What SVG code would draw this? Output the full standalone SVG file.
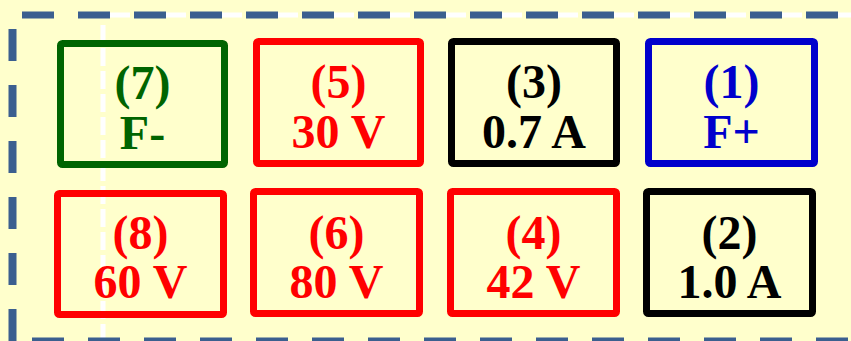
<svg xmlns="http://www.w3.org/2000/svg" width="851" height="341" viewBox="0 0 851 341">
<style>
.box{fill:none;stroke-width:7;}
.t{font-family:"Liberation Serif","Times New Roman",serif;font-weight:bold;font-size:48px;text-anchor:middle;}
.g{stroke:#006400}.gt{fill:#006400}
.r{stroke:#ff0000}.rt{fill:#ff0000}
.k{stroke:#000000}.kt{fill:#000000}
.b{stroke:#0000cc}.bt{fill:#0000cc}
.border{stroke:#3b5f8f;stroke-width:7;stroke-dasharray:32 24;fill:none}
.wline{stroke:#ffffff;stroke-width:5;fill:none}
</style>
<rect x="0" y="0" width="851" height="341" fill="#ffffcc"/>
<g id="frame">
<line class="wline" x1="110" y1="15" x2="851" y2="15" stroke-dasharray="20 36"/>
<line class="wline" x1="103" y1="25" x2="103" y2="341" stroke-dasharray="18 5"/>
<line class="border" x1="22" y1="15" x2="851" y2="15"/>
<line class="border" x1="12.5" y1="29" x2="12.5" y2="341" style="stroke-width:8"/>
<line class="border" x1="32" y1="341" x2="851" y2="341"/>
</g>
<g id="n7"><rect class="box g" x="60.5" y="43.5" width="164" height="121" rx="2"/><text class="t gt" x="142.5" y="99">(7)</text><text class="t gt" x="142.5" y="149">F-</text></g>
<g id="n5"><rect class="box r" x="256.5" y="41.5" width="164" height="122" rx="2"/><text class="t rt" x="338.5" y="98">(5)</text><text class="t rt" x="338.5" y="148">30 V</text></g>
<g id="n3"><rect class="box k" x="451.5" y="41.5" width="165" height="122" rx="2"/><text class="t kt" x="534" y="98">(3)</text><text class="t kt" x="534" y="148">0.7 A</text></g>
<g id="n1"><rect class="box b" x="648.5" y="41.5" width="166" height="122" rx="2"/><text class="t bt" x="731.5" y="98">(1)</text><text class="t bt" x="731.5" y="148">F+</text></g>
<g id="n8"><rect class="box r" x="57.5" y="193.5" width="166" height="121" rx="2"/><text class="t rt" x="140.5" y="249">(8)</text><text class="t rt" x="140.5" y="298">60 V</text></g>
<g id="n6"><rect class="box r" x="253.5" y="191.5" width="166" height="122" rx="2"/><text class="t rt" x="336.5" y="249">(6)</text><text class="t rt" x="336.5" y="298">80 V</text></g>
<g id="n4"><rect class="box r" x="450.5" y="191.5" width="166" height="122" rx="2"/><text class="t rt" x="533.5" y="249">(4)</text><text class="t rt" x="533.5" y="298">42 V</text></g>
<g id="n2"><rect class="box k" x="646.5" y="191.5" width="166" height="122" rx="2"/><text class="t kt" x="729.5" y="249">(2)</text><text class="t kt" x="729.5" y="298">1.0 A</text></g>
<g id="connectors"></g>
</svg>
